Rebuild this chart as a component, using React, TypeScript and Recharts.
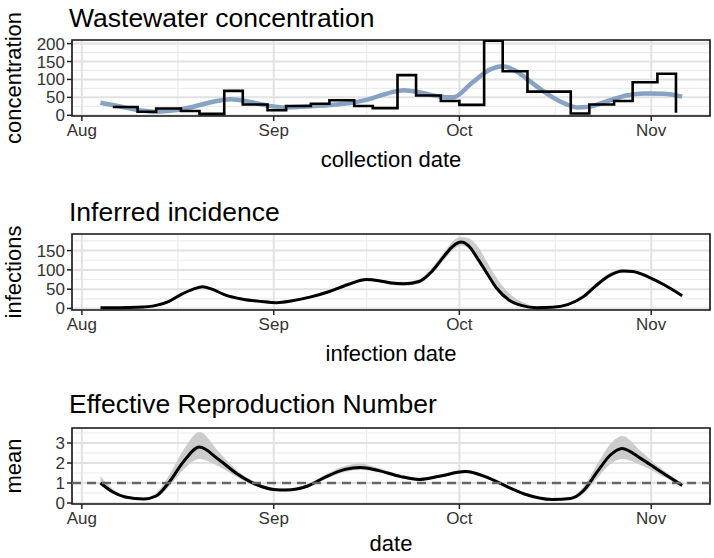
import React from 'react';
import {
  ComposedChart,
  Line,
  Area,
  XAxis,
  YAxis,
  CartesianGrid,
  ReferenceLine,
  ReferenceArea,
} from 'recharts';

// days counted from Aug 1
const monthTicks = [0, 31, 61, 92];
const monthLabels = ['Aug', 'Sep', 'Oct', 'Nov'];
const minorDays = [15.5, 46, 76.5];
const X_DOMAIN: [number, number] = [-1.6, 101.5];

// wastewater samples (step)
const wwDays = [5, 9, 12, 16, 19, 23, 26, 30, 33, 37, 40, 44, 47, 51, 54, 58, 61, 65, 68, 72, 79, 82, 86, 89, 93, 96];
const wwConc = [23, 10, 19, 12, 4, 68, 30, 14, 26, 32, 42, 26, 20, 112, 55, 40, 29, 208, 123, 66, 5, 30, 40, 92, 116, 7];

// smoothed wastewater
const smoothDays = [3, 6, 9, 12, 15, 18, 21, 24, 27, 30, 33, 37, 41, 44, 47, 50, 52, 55, 58, 60, 63, 66, 68, 70, 72, 75, 78, 80, 82, 85, 88, 91, 94, 97];
const smoothConc = [35, 25, 15, 10, 14, 24, 37, 45, 38, 27, 22, 25, 30, 36, 48, 64, 70, 62, 52, 50, 90, 128, 137, 125, 100, 62, 33, 22, 24, 40, 55, 61, 60, 52];

// inferred incidence
const incDays = [3, 6, 9, 12, 14, 16, 18, 19.5, 21, 23, 26, 29, 31.5, 34, 37, 40, 43, 46, 48, 50, 52, 54.5, 56.5, 58.5, 60, 61.3, 62.5, 64, 65.5, 67, 69, 71, 73.5, 76, 78.5, 81, 83, 85, 87.5, 89, 91.5, 94, 97];
const incMean = [2, 2, 3, 8, 18, 36, 50, 56, 50, 36, 24, 18, 15, 20, 30, 44, 62, 75, 72, 66, 64, 70, 95, 135, 162, 172, 162, 128, 90, 53, 22, 8, 2, 3, 10, 30, 58, 83, 97, 96, 82, 62, 33];
const incLow = [0, 0, 1, 6, 15, 33, 47, 53, 47, 34, 22, 16, 13, 18, 27, 41, 58, 71, 68, 61, 59, 65, 88, 125, 152, 163, 155, 120, 84, 48, 18, 5, 0, 1, 7, 26, 53, 78, 93, 92, 78, 58, 30];
const incHigh = [4, 4, 5, 11, 21, 39, 53, 59, 53, 39, 27, 20, 17, 22, 33, 48, 66, 79, 76, 70, 69, 76, 105, 145, 175, 185, 182, 160, 120, 80, 40, 18, 6, 6, 14, 36, 64, 89, 102, 100, 86, 66, 37];

// effective reproduction number
const rtDays = [3, 5, 7, 10, 12, 14, 16.5, 19, 22, 25, 28, 31, 33, 36.5, 39.5, 42.5, 45, 48, 51.5, 54.5, 57.5, 62, 65.5, 68.7, 71.5, 76, 79, 81, 83.3, 85.4, 87.3, 90.3, 93.5, 97];
const rtMean = [1.0, 0.55, 0.3, 0.2, 0.35, 1.0, 2.1, 2.8, 2.2, 1.48, 0.95, 0.68, 0.65, 0.85, 1.32, 1.68, 1.78, 1.62, 1.32, 1.18, 1.32, 1.57, 1.28, 0.82, 0.45, 0.18, 0.23, 0.6, 1.57, 2.4, 2.73, 2.23, 1.57, 0.88];
const rtLow = [0.9, 0.48, 0.25, 0.16, 0.28, 0.8, 1.7, 2.2, 1.85, 1.3, 0.85, 0.62, 0.6, 0.78, 1.2, 1.55, 1.65, 1.52, 1.25, 1.1, 1.25, 1.5, 1.2, 0.76, 0.4, 0.14, 0.18, 0.45, 1.25, 1.95, 2.2, 1.9, 1.4, 0.8];
const rtHigh = [1.35, 0.7, 0.38, 0.26, 0.5, 1.35, 2.7, 3.55, 2.6, 1.65, 1.05, 0.75, 0.72, 0.95, 1.45, 1.85, 1.98, 1.75, 1.42, 1.26, 1.4, 1.66, 1.36, 0.9, 0.52, 0.22, 0.3, 0.8, 1.95, 2.95, 3.35, 2.6, 1.75, 1.0];

const wwData = wwDays.map((d, i) => ({ day: d, conc: wwConc[i] }));
const smoothData = smoothDays.map((d, i) => ({ day: d, conc: smoothConc[i] }));
const incData = incDays.map((d, i) => ({ day: d, mean: incMean[i], band: [incLow[i], incHigh[i]] }));
const rtData = rtDays.map((d, i) => ({ day: d, mean: rtMean[i], band: [rtLow[i], rtHigh[i]] }));

const FONT = '"Liberation Sans", Arial, sans-serif';
const W = 714;
const H = 194;
const margin = { top: 40, right: 4, bottom: 48, left: 24 };
const tickStyle = { fill: '#333', fontSize: 17, fontFamily: FONT };

const monthFmt = (v: number) => monthLabels[monthTicks.indexOf(v)] ?? '';

function panelBits(yDomain: [number, number], yMajor: number[], yMinor: number[]) {
  return [
    <CartesianGrid key="gmin" horizontalValues={yMinor} verticalValues={minorDays} stroke="#ececec" strokeWidth={1.2} />,
    <CartesianGrid key="gmaj" horizontalValues={yMajor} verticalValues={monthTicks} stroke="#e2e2e2" strokeWidth={2} />,
    <XAxis
      key="x"
      type="number"
      dataKey="day"
      domain={X_DOMAIN}
      ticks={monthTicks}
      tickFormatter={monthFmt}
      allowDataOverflow
      axisLine={false}
      tickSize={5}
      tickMargin={3}
      tickLine={{ stroke: '#222', strokeWidth: 1.5 }}
      tick={tickStyle}
      height={30}
    />,
    <YAxis
      key="y"
      type="number"
      domain={yDomain}
      ticks={yMajor}
      allowDataOverflow
      axisLine={false}
      tickSize={5}
      tickMargin={2}
      tickLine={{ stroke: '#222', strokeWidth: 1.5 }}
      tick={tickStyle}
      width={48}
      interval={0}
    />,
  ];
}

export default function App() {
  const y1: [number, number] = [-2, 210];
  const y2: [number, number] = [-4, 193];
  const y3: [number, number] = [-0.05, 3.75];
  return (
    <div style={{ position: 'absolute', left: 0, top: 0, width: W, height: 558, background: '#fff', fontFamily: FONT }}>
      <div style={{ position: 'absolute', left: 0, top: 0 }}>
        <ComposedChart width={W} height={H} margin={margin}>
          {panelBits(y1, [0, 50, 100, 150, 200], [25, 75, 125, 175])}
          <Line data={smoothData} dataKey="conc" type="monotone" stroke="#86a3c3" strokeWidth={4.5} dot={false} isAnimationActive={false} />
          <Line data={wwData} dataKey="conc" type="stepAfter" stroke="#000" strokeWidth={2.6} dot={false} isAnimationActive={false} />
          <ReferenceArea x1={X_DOMAIN[0]} x2={X_DOMAIN[1]} y1={y1[0]} y2={y1[1]} fill="none" fillOpacity={0} stroke="#111" strokeWidth={1.6} ifOverflow="visible" />
        </ComposedChart>
      </div>
      <div style={{ position: 'absolute', left: 0, top: 194 }}>
        <ComposedChart width={W} height={H} margin={margin}>
          {panelBits(y2, [0, 50, 100, 150], [25, 75, 125, 175])}
          <Area data={incData} dataKey="band" type="monotone" stroke="none" fill="#cccccc" fillOpacity={1} isAnimationActive={false} />
          <Line data={incData} dataKey="mean" type="monotone" stroke="#000" strokeWidth={3} dot={false} isAnimationActive={false} />
          <ReferenceArea x1={X_DOMAIN[0]} x2={X_DOMAIN[1]} y1={y2[0]} y2={y2[1]} fill="none" fillOpacity={0} stroke="#111" strokeWidth={1.6} ifOverflow="visible" />
        </ComposedChart>
      </div>
      <div style={{ position: 'absolute', left: 0, top: 388 }}>
        <ComposedChart width={W} height={H} margin={margin}>
          {panelBits(y3, [0, 1, 2, 3], [0.5, 1.5, 2.5, 3.5])}
          <Area data={rtData} dataKey="band" type="monotone" stroke="none" fill="#cccccc" fillOpacity={1} isAnimationActive={false} />
          <Line data={rtData} dataKey="mean" type="monotone" stroke="#000" strokeWidth={3} dot={false} isAnimationActive={false} />
          <ReferenceLine y={1} stroke="#666" strokeWidth={2.6} strokeDasharray="9 6" />
          <ReferenceArea x1={X_DOMAIN[0]} x2={X_DOMAIN[1]} y1={y3[0]} y2={y3[1]} fill="none" fillOpacity={0} stroke="#111" strokeWidth={1.6} ifOverflow="visible" />
        </ComposedChart>
      </div>
      <svg width={W} height={558} style={{ position: 'absolute', left: 0, top: 0, pointerEvents: 'none' }}>
        <g fontFamily={FONT} fill="#000">
          <text x={69} y={27} fontSize={26.5}>Wastewater concentration</text>
          <text x={69} y={221} fontSize={26.5}>Inferred incidence</text>
          <text x={69} y={413} fontSize={26.5}>Effective Reproduction Number</text>
          <text transform="translate(21,78) rotate(-90)" textAnchor="middle" fontSize={22}>concentration</text>
          <text transform="translate(21,272) rotate(-90)" textAnchor="middle" fontSize={22}>infections</text>
          <text transform="translate(21,466) rotate(-90)" textAnchor="middle" fontSize={22}>mean</text>
          <text x={391} y={167} textAnchor="middle" fontSize={22}>collection date</text>
          <text x={391} y={361} textAnchor="middle" fontSize={22}>infection date</text>
          <text x={391} y={551} textAnchor="middle" fontSize={22}>date</text>
        </g>
      </svg>
    </div>
  );
}
